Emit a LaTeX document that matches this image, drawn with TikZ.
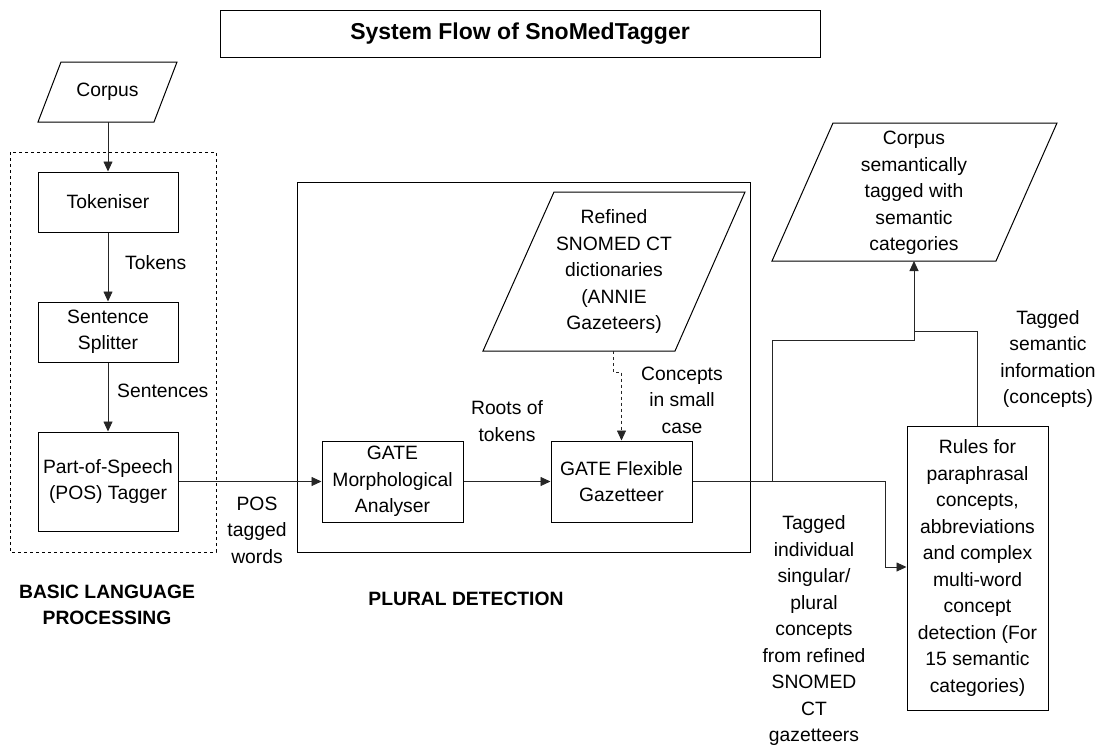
\documentclass[tikz,border=0pt]{standalone}
\usepackage{fontspec}
\setmainfont{Liberation Sans}
\usetikzlibrary{arrows.meta}
\begin{document}
\begin{tikzpicture}[x=1pt,y=-1pt,
  every node/.style={font=\fontsize{19.3}{26.5}\selectfont, inner sep=0pt, align=center},
  box/.style={draw, line width=1pt, minimum width=141pt},
  bold/.style={font=\fontsize{19.3}{26.5}\selectfont\bfseries},
  arr/.style={line width=0.85pt, draw=black!85, -{Triangle[length=10pt,width=9pt]}},
  ln/.style={line width=0.85pt, draw=black!85},
  para/.style={draw, line width=1pt}]
\useasboundingbox (0,0) rectangle (1096,747);
% title
\node[draw, line width=1pt, minimum width=600pt, minimum height=47pt,
  font=\fontsize{23}{27}\selectfont\bfseries] (title) at (520,33.5) {System Flow of SnoMedTagger};
% group frames
\draw[dashed, line width=0.8pt] (10,152) rectangle (216,552);
\draw[line width=1pt] (297,182) rectangle (750,552);
% corpus
\draw[para] (61,62) -- (177,62) -- (154,122) -- (38,122) -- cycle;
\node (corpus) at (107.5,92) {Corpus};
\coordinate (corpusB) at (108,122);
% basic language processing
\node[box, minimum width=140pt, minimum height=60pt] (tok) at (108,202) {Tokeniser};
\node[box, minimum width=140pt, minimum height=60pt] (split) at (108,332) {Sentence\\Splitter};
\node[box, minimum width=140pt, minimum height=99pt] (pos) at (108,481.5) {Part-of-Speech\\(POS) Tagger};
\draw[arr] (corpusB) -- (tok.north);
\draw[arr] (tok.south) -- (split.north);
\draw[arr] (split.south) -- (pos.north);
\node[anchor=west] (ltok) at (125,263) {Tokens};
\node[anchor=west] (lsent) at (117,391) {Sentences};
\node[bold] (blp) at (107,605) {BASIC LANGUAGE\\PROCESSING};
% plural detection
\node[box, minimum height=81pt] (morph) at (392.5,481.5) {GATE\\Morphological\\Analyser};
\node[box, minimum height=81pt] (gaz) at (621.5,481.5) {GATE Flexible\\Gazetteer};
\draw[para] (554,192) -- (745,192) -- (675,351) -- (483,351) -- cycle;
\node (refined) at (614,272) {Refined\\SNOMED CT\\dictionaries\\(ANNIE\\Gazeteers)};
\coordinate (refB) at (613,351);
\node[bold] (pd) at (466,599) {PLURAL DETECTION};
\draw[arr] (pos.east) -- (morph.west);
\node (lpos) at (257,530) {POS\\tagged\\words};
\draw[arr] (morph.east) -- (gaz.west);
\node (lroots) at (507,421) {Roots of\\tokens};
\draw[arr, dashed] (refB) -- (613,372) -- (621.5,372) -- (gaz.north);
\node (lconc) at (682,400) {Concepts\\in small\\case};
% output
\draw[para] (833,123) -- (1057,123) -- (996,261) -- (772,261) -- cycle;
\node (out) at (914,193) {Corpus\\semantically\\tagged with\\semantic\\categories};
\coordinate (outB) at (914,261);
% rules
\node[box, minimum height=284pt] (rules) at (977.5,568) {Rules for\\paraphrasal\\concepts,\\abbreviations\\and complex\\multi-word\\concept\\detection (For\\15 semantic\\categories)};
\draw[arr] (gaz.east) -- (885,481.5) -- (885,567) -- (rules.west |- 0,567);
\draw[arr] (gaz.east) -- (772,481.5) -- (772,340) -- (914,340) -- (outB);
\draw[ln] (rules.north) -- (977.5,331) -- (914,331);
\node (ltagind) at (814,631) {Tagged\\individual\\singular/\\plural\\concepts\\from refined\\SNOMED\\CT\\gazetteers};
\node (ltagsem) at (1048,359) {Tagged\\semantic\\information\\(concepts)};
\end{tikzpicture}
\end{document}
